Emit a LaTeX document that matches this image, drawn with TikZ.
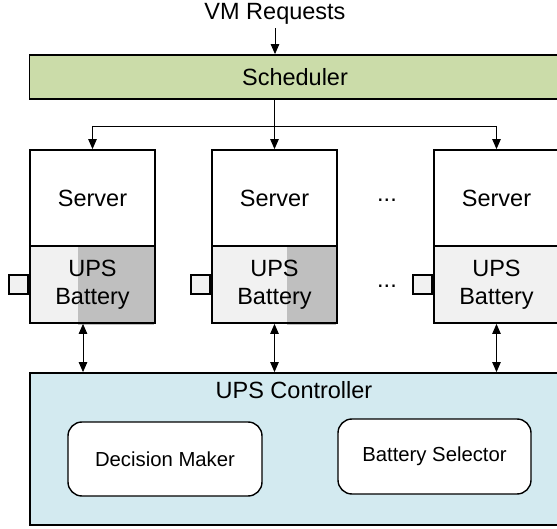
\documentclass[tikz,border=0pt]{standalone}
\usepackage{fontspec}
\setmainfont{Liberation Sans}
\usetikzlibrary{arrows.meta}
\definecolor{schedgreen}{HTML}{CBDCA9}
\definecolor{ctrlblue}{HTML}{D3EAF0}
\definecolor{batlight}{HTML}{F1F1F1}
\definecolor{batdark}{HTML}{BFBFBF}
\tikzset{
  bigfont/.style={font=\fontsize{23.5}{28}\selectfont},
  smallfont/.style={font=\fontsize{20.3}{24}\selectfont},
  bar/.style={draw=black, line width=1.8pt, inner sep=0pt, bigfont},
  srvbox/.style={draw=black, line width=1.8pt, fill=white, minimum width=125pt, minimum height=96pt, inner sep=0pt, bigfont},
  batbox/.style={draw=black, line width=1.8pt, minimum width=125pt, minimum height=77pt, inner sep=0pt, align=center, bigfont},
  plug/.style={draw=black, line width=1.8pt, fill=batlight, minimum width=19pt, minimum height=19pt, inner sep=0pt},
  module/.style={draw=black, line width=1.4pt, fill=white, rounded corners=14pt, inner sep=0pt, smallfont},
  link/.style={line width=0.9pt, -{Triangle[length=10pt,width=8.5pt]}},
  duplex/.style={line width=0.9pt, {Triangle[length=10pt,width=8.5pt]}-{Triangle[length=10pt,width=8.5pt]}},
}
\begin{document}
\begin{tikzpicture}[x=1pt, y=-1pt]
\useasboundingbox (0,0) rectangle (557,529);
\clip (0,0) rectangle (557,529);

% request source and scheduler
\node[bigfont] (vm) at (275,14) {VM Requests};
\node[bar, fill=schedgreen, minimum width=531.5pt, minimum height=44pt] (sched) at (295.25,77) {};
\node[bigfont] (schedlabel) at (295,77) {Scheduler};

% servers
\node[srvbox] (srv1) at (92.5,198) {Server};
\node[srvbox] (srv2) at (274.5,198) {Server};
\node[srvbox] (srv3) at (496.5,198) {Server};

% UPS batteries with charge levels
\node[batbox, fill=batlight] (bat1) at (92.5,284.5) {};
\node[batbox, fill=batlight] (bat2) at (274.5,284.5) {};
\node[batbox, fill=batlight] (bat3) at (496.5,284.5) {};
\fill[batdark] (78,247) rectangle ([shift={(-2pt,-1.5pt)}]bat1.south east);
\fill[batdark] (287,247) rectangle ([shift={(-2pt,-1.5pt)}]bat2.south east);
\node[batbox] (bat1b) at (bat1) {UPS\\Battery};
\node[batbox] (bat2b) at (bat2) {UPS\\Battery};
\node[batbox] (bat3b) at (bat3) {UPS\\Battery};

% battery terminals
\node[plug, anchor=east] (plug1) at (bat1.west |- 0,284.5) {};
\node[plug, anchor=east] (plug2) at (bat2.west |- 0,284.5) {};
\node[plug, anchor=east] (plug3) at (bat3.west |- 0,284.5) {};

% ellipses between the second and last server
\node[bigfont] (dots1) at (387,200) {...};
\node[bigfont] (dots2) at (387,286) {...};

% UPS controller and its modules
\node[bar, fill=ctrlblue, minimum width=531pt, minimum height=152pt] (ctrl) at (295.5,449) {};
\node[bigfont] (ctrllabel) at (294,390) {UPS Controller};
\node[module, minimum width=194pt, minimum height=74pt] (dm) at (165,459) {Decision Maker};
\node[module, minimum width=193pt, minimum height=75pt] (bs) at (434.5,456.5) {Battery Selector};

% request flow
\draw[link] (vm.south) -- (vm.south |- sched.north);
\coordinate (split) at (274.5,126);
\draw[link] (srv2.north |- sched.south) -- (srv2.north);
\draw[line width=0.9pt] (split -| srv1.north) -- (split -| srv3.north);
\draw[link] (split -| srv1.north) -- (srv1.north);
\draw[link] (split -| srv3.north) -- (srv3.north);

% battery to controller links
\coordinate (tap1) at ([xshift=-9.5pt]bat1.south);
\draw[duplex] (tap1) -- (tap1 |- ctrl.north);
\draw[duplex] (bat2.south) -- (bat2.south |- ctrl.north);
\draw[duplex] (bat3.south) -- (bat3.south |- ctrl.north);
\end{tikzpicture}
\end{document}
